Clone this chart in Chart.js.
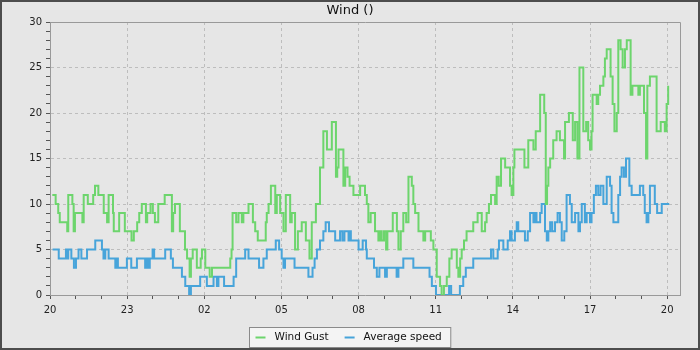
<!DOCTYPE html>
<html lang="en">
<head>
<meta charset="UTF-8">
<title>Wind ()</title>
<script src="https://cdn.jsdelivr.net/npm/chart.js"></script>
<style>
    body { margin: 0; background: #e6e6e6; }
    canvas { display: block; }
</style>
</head>
<body>
<canvas id="windChart" width="700" height="350"></canvas>
<script>
// hours after 20:00 where the reading changes, and the new reading (mph)
const gustTimes = [0.09, 0.22, 0.32, 0.38, 0.67, 0.71, 0.87, 0.92, 0.97, 1.26, 1.31, 1.47, 1.68, 1.75, 1.88, 2.09, 2.22, 2.28, 2.45, 2.48,
    2.69, 2.91, 3.17, 3.26, 3.39, 3.47, 3.57, 3.73, 3.78, 3.91, 4.00, 4.08, 4.21, 4.46, 4.74, 4.79, 4.86, 5.05, 5.25, 5.33,
    5.43, 5.48, 5.55, 5.71, 5.86, 5.91, 6.04, 6.21, 6.30, 7.01, 7.06, 7.10, 7.24, 7.33, 7.46, 7.52, 7.72, 7.89, 7.98, 8.08,
    8.39, 8.43, 8.50, 8.59, 8.76, 8.82, 8.95, 9.08, 9.17, 9.34, 9.40, 9.53, 9.64, 9.79, 9.95, 10.09, 10.18, 10.34, 10.50, 10.63,
    10.77, 10.96, 11.12, 11.17, 11.22, 11.41, 11.48, 11.57, 11.65, 11.80, 12.06, 12.25, 12.32, 12.38, 12.47, 12.64, 12.77, 12.84, 12.90, 12.99,
    13.07, 13.12, 13.33, 13.49, 13.55, 13.64, 13.74, 13.85, 13.94, 14.07, 14.13, 14.20, 14.33, 14.52, 14.59, 14.81, 14.91, 15.04, 15.17, 15.23,
    15.32, 15.43, 15.53, 15.62, 15.82, 15.88, 15.95, 16.01, 16.10, 16.20, 16.46, 16.63, 16.79, 16.92, 16.98, 17.07, 17.15, 17.31, 17.37, 17.45,
    17.54, 17.70, 17.89, 17.95, 18.02, 18.06, 18.45, 18.60, 18.80, 18.89, 19.06, 19.22, 19.28, 19.33, 19.38, 19.45, 19.57, 19.70, 19.83, 19.99,
    20.03, 20.18, 20.33, 20.42, 20.51, 20.59, 20.74, 20.85, 20.93, 21.00, 21.06, 21.10, 21.26, 21.32, 21.39, 21.52, 21.58, 21.65, 21.80, 21.88,
    21.95, 22.04, 22.10, 22.19, 22.27, 22.36, 22.43, 22.58, 22.65, 22.88, 22.94, 23.10, 23.18, 23.23, 23.33, 23.59, 23.75, 23.91, 23.98, 24.04];
const gustValues = [11, 10, 9, 8, 7, 11, 10, 7, 9, 8, 11, 10, 11, 12, 11, 9, 8, 11, 9, 7,
    9, 7, 6, 7, 8, 9, 10, 8, 9, 10, 9, 8, 10, 11, 7, 9, 10, 7, 5, 4,
    2, 4, 5, 3, 4, 5, 3, 2, 3, 4, 5, 9, 8, 9, 8, 9, 10, 8, 7, 6,
    8, 9, 10, 12, 9, 11, 9, 7, 11, 8, 9, 5, 7, 8, 6, 4, 8, 10, 14, 18,
    16, 19, 13, 14, 16, 12, 14, 13, 12, 11, 12, 11, 10, 8, 9, 7, 6, 7, 6, 7,
    5, 7, 9, 7, 5, 7, 9, 8, 13, 12, 10, 9, 7, 6, 7, 6, 5, 2, 1, 0,
    1, 2, 4, 5, 3, 2, 4, 5, 6, 7, 8, 9, 7, 8, 9, 10, 11, 10, 13, 12,
    15, 14, 12, 11, 14, 16, 14, 17, 16, 18, 22, 20, 10, 12, 14, 15, 17, 18, 17, 15,
    19, 20, 17, 19, 15, 25, 18, 19, 17, 16, 18, 22, 21, 22, 23, 24, 26, 27, 24, 21,
    18, 20, 28, 27, 25, 27, 28, 22, 23, 22, 23, 20, 15, 23, 24, 18, 19, 18, 21, 23];

const avgTimes = [0.10, 0.34, 0.62, 0.66, 0.71, 0.83, 0.93, 1.01, 1.11, 1.22, 1.44, 1.76, 2.02, 2.08, 2.15, 2.28, 2.54, 2.58, 2.64, 2.99,
    3.16, 3.38, 3.70, 3.76, 3.82, 3.88, 3.99, 4.05, 4.48, 4.70, 4.78, 5.13, 5.26, 5.41, 5.48, 5.84, 6.10, 6.36, 6.49, 6.55,
    6.77, 7.14, 7.24, 7.59, 7.72, 8.13, 8.30, 8.43, 8.78, 8.91, 9.01, 9.08, 9.14, 9.51, 10.05, 10.21, 10.29, 10.38, 10.50, 10.63,
    10.72, 10.85, 11.09, 11.28, 11.37, 11.45, 11.61, 11.66, 11.70, 12.00, 12.16, 12.29, 12.32, 12.60, 12.71, 12.81, 13.03, 13.10, 13.48, 13.55,
    13.74, 14.13, 14.76, 14.85, 15.01, 15.52, 15.60, 15.94, 16.07, 16.17, 16.46, 17.15, 17.24, 17.41, 17.46, 17.63, 17.80, 17.89, 17.95, 18.08,
    18.15, 18.21, 18.47, 18.58, 18.67, 18.80, 18.86, 18.92, 19.06, 19.12, 19.25, 19.32, 19.38, 19.45, 19.53, 19.64, 19.74, 19.83, 19.90, 20.00,
    20.09, 20.22, 20.29, 20.42, 20.55, 20.61, 20.68, 20.80, 20.87, 21.00, 21.06, 21.15, 21.23, 21.32, 21.41, 21.52, 21.65, 21.78, 21.84, 21.91,
    22.10, 22.17, 22.23, 22.32, 22.40, 22.53, 22.62, 22.94, 23.07, 23.13, 23.20, 23.27, 23.33, 23.52, 23.61, 23.79, 24.08];
const avgValues = [5, 4, 5, 4, 5, 4, 3, 4, 5, 4, 5, 6, 5, 4, 5, 4, 3, 4, 3, 4,
    3, 4, 3, 4, 3, 4, 5, 4, 5, 4, 3, 2, 1, 0, 1, 2, 1, 2, 1, 2,
    1, 2, 4, 5, 4, 3, 4, 5, 6, 5, 4, 3, 4, 3, 2, 3, 4, 5, 6, 7,
    8, 7, 6, 7, 6, 7, 6, 7, 6, 5, 6, 5, 4, 3, 2, 3, 2, 3, 2, 3,
    4, 3, 2, 1, 0, 1, 0, 1, 2, 3, 4, 5, 4, 5, 6, 5, 6, 7, 6, 7,
    8, 7, 6, 7, 9, 8, 9, 8, 9, 10, 7, 6, 7, 8, 7, 8, 9, 8, 6, 7,
    11, 10, 8, 9, 7, 8, 10, 8, 9, 8, 9, 11, 12, 11, 12, 10, 13, 12, 9, 8,
    11, 13, 14, 13, 15, 12, 11, 12, 11, 9, 8, 9, 12, 10, 9, 10, 10];

const startHour = 20;
const labelEvery = 3;     // x labels every 3 hours
const yLabelEvery = 5;

const gustColor = '#6dd56d';
const avgColor = '#47a4da';

function toPoints(times, values) {
    return times.map((t, i) => ({ x: t, y: values[i] }));
}

// background, plot box, title, legend box and outer frame
const decorations = {
    id: 'decorations',
    beforeDraw(chart) {
        const c = chart.ctx;
        c.save();
        c.fillStyle = '#e6e6e6';
        c.fillRect(0, 0, chart.width, chart.height);
        c.restore();
    },
    afterDraw(chart) {
        const c = chart.ctx;
        const a = chart.chartArea;
        c.save();

        // top + right edges of the plot box
        c.strokeStyle = '#999';
        c.lineWidth = 1;
        c.beginPath();
        c.moveTo(Math.round(a.left) + 0.5, Math.round(a.top) + 0.5);
        c.lineTo(Math.round(a.right) + 0.5, Math.round(a.top) + 0.5);
        c.lineTo(Math.round(a.right) + 0.5, Math.round(a.bottom) + 0.5);
        c.stroke();

        // title
        c.fillStyle = '#111';
        c.font = '13px "DejaVu Sans"';
        c.textAlign = 'center';
        c.textBaseline = 'middle';
        c.fillText('Wind ()', chart.width / 2, 11);

        // legend
        c.font = '10.5px "DejaVu Sans"';
        c.textAlign = 'left';
        const sets = chart.data.datasets;
        const widths = sets.map(d => c.measureText(d.label).width);
        const lineLen = 10, gap = 9, between = 16, padL = 6, padR = 9;
        let total = padL + padR + (sets.length - 1) * between;
        widths.forEach(w => { total += lineLen + gap + w; });
        const bx = Math.round(chart.width / 2 - total / 2) + 0.5;
        const by = 327.5, bh = 20;
        c.fillStyle = '#f4f4f4';
        c.fillRect(bx, by, total, bh);
        c.strokeStyle = '#8a8a8a';
        c.strokeRect(bx, by, total, bh);
        let x = bx + padL;
        const my = by + bh / 2;
        sets.forEach((d, i) => {
            c.strokeStyle = d.borderColor;
            c.lineWidth = 2;
            c.beginPath();
            c.moveTo(x, my);
            c.lineTo(x + lineLen, my);
            c.stroke();
            c.fillStyle = '#111';
            c.fillText(d.label, x + lineLen + gap, my);
            x += lineLen + gap + widths[i] + between;
        });

        // outer frame
        c.strokeStyle = '#4d4d4d';
        c.lineWidth = 2;
        c.strokeRect(1, 1, chart.width - 2, chart.height - 2);
        c.restore();
    }
};

const tickFont = { family: 'DejaVu Sans', size: 10 };

const ctx = document.getElementById('windChart').getContext('2d');
const windChart = new Chart(ctx, {
    type: 'line',
    data: {
        datasets: [{
            label: 'Wind Gust',
            data: toPoints(gustTimes, gustValues),
            borderColor: gustColor,
            backgroundColor: gustColor,
            borderWidth: 2,
            pointRadius: 0,
            stepped: true,
            fill: false
        }, {
            label: 'Average speed',
            data: toPoints(avgTimes, avgValues),
            borderColor: avgColor,
            backgroundColor: avgColor,
            borderWidth: 2,
            pointRadius: 0,
            stepped: true,
            fill: false
        }]
    },
    options: {
        responsive: false,
        animation: false,
        devicePixelRatio: 1,
        layout: { padding: { top: 22, right: 20, bottom: 0, left: 0 } },
        plugins: {
            legend: { display: false },
            title: { display: false },
            tooltip: { enabled: false }
        },
        scales: {
            x: {
                type: 'linear',
                min: 0,
                max: 24.5,
                afterFit: s => { s.height = 55; },
                border: { color: '#999', dash: [3, 3] },
                grid: {
                    color: c => (c.tick && c.tick.value > 0 && c.tick.value % labelEvery === 0) ? '#bdbdbd' : 'rgba(0,0,0,0)',
                    tickColor: '#555',
                    tickLength: 4
                },
                ticks: {
                    stepSize: 1,
                    autoSkip: false,
                    includeBounds: false,
                    maxRotation: 0,
                    padding: 5,
                    color: '#222',
                    font: tickFont,
                    callback: v => v % labelEvery === 0 ? String((startHour + v) % 24).padStart(2, '0') : ''
                }
            },
            y: {
                min: 0,
                max: 30,
                afterFit: s => { s.width = 50; },
                border: { color: '#999', dash: [3, 3] },
                grid: {
                    color: c => (c.tick && c.tick.value > 0 && c.tick.value < 30 && c.tick.value % yLabelEvery === 0) ? '#bdbdbd' : 'rgba(0,0,0,0)',
                    tickColor: '#555',
                    tickLength: 4
                },
                ticks: {
                    stepSize: 1,
                    autoSkip: false,
                    padding: 4,
                    color: '#222',
                    font: tickFont,
                    callback: v => v % yLabelEvery === 0 ? v : ''
                }
            }
        }
    },
    plugins: [decorations]
});
</script>
</body>
</html>
